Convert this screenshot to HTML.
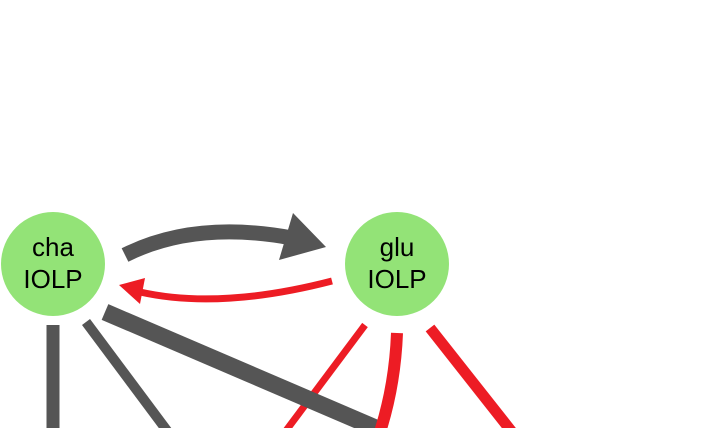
<!DOCTYPE html>
<html><head><style>body{margin:0;background:#fff}svg{display:block}</style></head>
<body>
<svg width="710" height="428" viewBox="0 0 710 428" xmlns="http://www.w3.org/2000/svg">
<circle cx="53" cy="264" r="52" fill="#93e377"/>
<circle cx="397" cy="264" r="52" fill="#93e377"/>
<text x="53" y="256" font-family="Liberation Sans, sans-serif" font-size="26" text-anchor="middle">cha</text>
<text x="53" y="288" font-family="Liberation Sans, sans-serif" font-size="26" text-anchor="middle">IOLP</text>
<text x="397" y="256" font-family="Liberation Sans, sans-serif" font-size="26" text-anchor="middle">glu</text>
<text x="397" y="288" font-family="Liberation Sans, sans-serif" font-size="26" text-anchor="middle">IOLP</text>
<path d="M125 255 Q195 220 292 238" stroke="#555" stroke-width="15" fill="none"/>
<polygon points="326,247 293,213 279,260" fill="#555"/>
<path d="M332 281 Q220 310 140 292" stroke="#ed1c24" stroke-width="7" fill="none"/>
<polygon points="119,285 145,278 140,304" fill="#ed1c24"/>
<line x1="53" y1="325" x2="53" y2="428" stroke="#555" stroke-width="13"/>
<line x1="86" y1="322" x2="168" y2="432" stroke="#555" stroke-width="10"/>
<line x1="365" y1="325" x2="285" y2="432" stroke="#ed1c24" stroke-width="7"/>
<line x1="105" y1="312" x2="385" y2="432" stroke="#555" stroke-width="17"/>
<path d="M397 333 Q395 385 380 432" stroke="#ed1c24" stroke-width="12" fill="none"/>
<line x1="430" y1="328" x2="512" y2="432" stroke="#ed1c24" stroke-width="11"/>
</svg>
</body></html>
